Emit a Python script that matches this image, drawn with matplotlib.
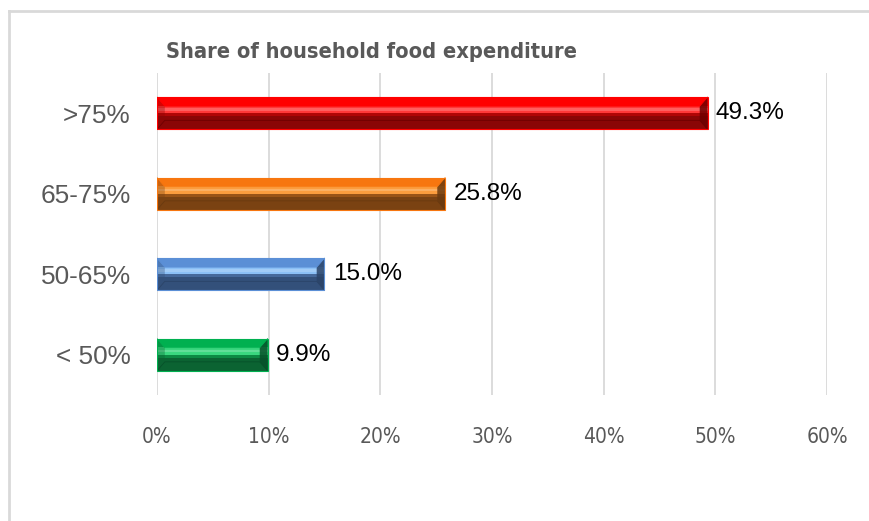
import matplotlib
matplotlib.use('Agg')
import matplotlib.pyplot as plt
from matplotlib.lines import Line2D

png_filename = 'out.png'

categories = ['< 50%', '50-65%', '65-75%', '>75%']
values = [9.9, 15.0, 25.8, 49.3]
value_labels = ['9.9%', '15.0%', '25.8%', '49.3%']
x_ticks = [0, 10, 20, 30, 40, 50, 60]
title = 'Share of household food expenditure'

# base, light stripe, mid, dark, end cap
palette = [
    ('#00b050', '#3ad77f', '#0c8a43', '#0b6332', '#07512a'),
    ('#5b8fd6', '#8cc0f6', '#46699b', '#33507a', '#2b4468'),
    ('#f7760f', '#fc9d3e', '#9a5417', '#7a4212', '#6a3a10'),
    ('#ff0000', '#ff3838', '#b00606', '#8a0606', '#6e0000'),
]

plt.rcParams['font.family'] = ['Liberation Sans', 'DejaVu Sans']
narrow = dict(family='DejaVu Sans', fontstretch='condensed')

fig = plt.figure(figsize=(8.7, 5.21), dpi=100)
ax = fig.add_axes([157 / 870, 126 / 521, 670 / 870, 322 / 521])

bar_h = 0.4
# bands as (start, end) fraction of bar height measured from the top
bands = [(0.0, 0.27, 0), (0.27, 0.5, 1), (0.5, 0.6, 2), (0.6, 1.0, 3)]
for i, (v, cols) in enumerate(zip(values, palette)):
    base, light, mid, dark, cap = cols
    top = i + bar_h / 2
    bot = i - bar_h / 2
    for a, b, c in bands:
        ax.barh(top - b * bar_h, v, height=(b - a) * bar_h, align='edge',
                color=cols[c], linewidth=0, zorder=3)
    # thin highlight line in the light band
    ax.barh(top - 0.42 * bar_h, v, height=0.08 * bar_h, align='edge',
            color='white', alpha=0.2, linewidth=0, zorder=3)
    # bevelled ends
    dx = 0.7
    dy = 0.28 * bar_h
    ax.fill([0, dx, dx, 0], [top, top - dy, bot + dy, bot], color=dark, alpha=0.35, linewidth=0, zorder=4)
    ax.fill([v, v - dx, v - dx, v], [top, top - dy, bot + dy, bot], color=cap, alpha=0.85, linewidth=0, zorder=4)
    ax.plot([0, dx, v - dx, v], [top, top - dy, top - dy, top], color=base, lw=0.6, zorder=5)
    ax.plot([0, dx, v - dx, v], [bot, bot + dy, bot + dy, bot], color=cap, lw=0.6, zorder=5)
    ax.barh(i, v, height=bar_h, fill=False, edgecolor=base, linewidth=0.8, zorder=6)
    ax.annotate(value_labels[i], (v, i), xytext=(6, 0), textcoords='offset points',
                ha='left', va='center', fontsize=17.5, color='black')

ax.set_xlim(0, 60)
ax.set_ylim(-0.5, 3.5)
ax.set_xticks(x_ticks)
ax.set_xticklabels([f'{t}%' for t in x_ticks], fontsize=15, color='#595959', **narrow)
ax.set_yticks(range(len(categories)))
ax.set_yticklabels(categories, fontsize=18.8, color='#595959')
ax.tick_params(axis='both', length=0)
ax.tick_params(axis='x', pad=23)
ax.tick_params(axis='y', pad=19)
ax.grid(axis='x', color='#d9d9d9', linewidth=1.3, zorder=0)
ax.set_axisbelow(True)
for s in ax.spines.values():
    s.set_visible(False)

fig.text(372 / 870, 1 - 52 / 521, title, ha='center', va='center',
         fontsize=15.7, fontweight='bold', color='#595959', **narrow)

# outer chart frame
fig.add_artist(Line2D([9 / 870, 9 / 870], [0, 1 - 11 / 521], color='#d9d9d9', lw=2))
fig.add_artist(Line2D([9 / 870, 1], [1 - 11 / 521, 1 - 11 / 521], color='#d9d9d9', lw=2))

fig.savefig(png_filename, dpi=100)
